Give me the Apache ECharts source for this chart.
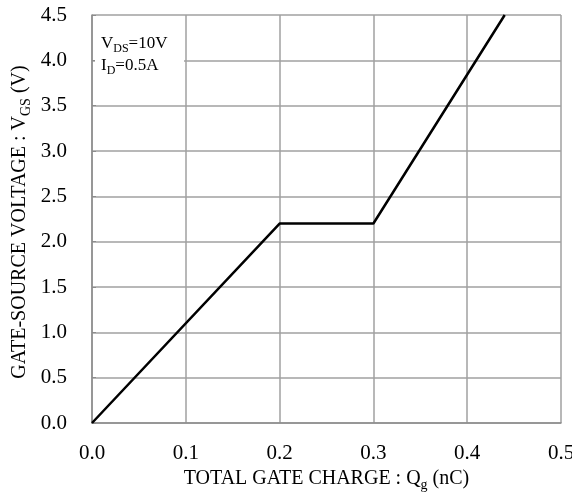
<!DOCTYPE html>
<html>
<head>
<meta charset="utf-8">
<script src="https://cdn.jsdelivr.net/npm/echarts@6/dist/echarts.min.js"></script>
<style>
  html, body { margin: 0; padding: 0; background: #fff; }
  #chart { width: 572px; height: 493px; }
</style>
</head>
<body>
<div id="chart"></div>
<script>
// gate charge curve
const qg = [0, 0.2, 0.3, 0.44]
const vgs = [0, 2.2, 2.2, 4.5]
const xTicks = [0, 0.1, 0.2, 0.3, 0.4, 0.5]
const yTicks = [0, 0.5, 1.0, 1.5, 2.0, 2.5, 3.0, 3.5, 4.0, 4.5]

const font = 'Liberation Serif, Times New Roman, serif'
const myChart = echarts.init(document.getElementById('chart'))

const sub = { fontFamily: font, fontSize: 14, color: '#000', verticalAlign: 'bottom', lineHeight: 26 }
const norm = { fontFamily: font, fontSize: 20, color: '#000', lineHeight: 26 }

let option = {
  animation: false,
  grid: { left: 92, right: 11, top: 15, bottom: 70, outerBoundsMode: 'none' },
  xAxis: {
    type: 'value',
    min: xTicks[0],
    max: xTicks[xTicks.length - 1],
    interval: 0.1,
    name: '{a|TOTAL GATE CHARGE : Q}{s|g}{a| (nC)}',
    nameLocation: 'middle',
    nameGap: 40,
    nameTextStyle: { rich: { a: norm, s: sub } },
    axisLine: { show: true, lineStyle: { color: '#8c8c8c', width: 1.5 } },
    axisTick: { show: false },
    axisLabel: {
      margin: 20,
      fontFamily: font, fontSize: 21, color: '#000',
      formatter: v => v.toFixed(1)
    },
    splitLine: { show: true, lineStyle: { color: '#a0a0a0', width: 1.5 } }
  },
  yAxis: {
    type: 'value',
    min: yTicks[0],
    max: yTicks[yTicks.length - 1],
    interval: 0.5,
    axisLine: { show: true, lineStyle: { color: '#8c8c8c', width: 1.5 } },
    axisTick: { show: true, inside: true, length: 4, lineStyle: { color: '#8c8c8c' } },
    axisLabel: {
      margin: 25,
      fontFamily: font, fontSize: 21, color: '#000',
      formatter: v => v.toFixed(1)
    },
    splitLine: { show: true, lineStyle: { color: '#a0a0a0', width: 1.5 } }
  },
  graphic: [
    // y axis title
    {
      type: 'text',
      x: 20, y: 222,
      rotation: Math.PI / 2,
      style: {
        text: '{a|GATE-SOURCE VOLTAGE : V}{s|GS}{a| (V)}',
        align: 'center',
        verticalAlign: 'middle',
        rich: { a: norm, s: sub }
      }
    },
    {
      type: 'rect',
      left: 95, top: 16,
      shape: { width: 89, height: 88 },
      style: { fill: '#fff' },
      z: 5
    },
    {
      type: 'text',
      left: 101, top: 35,
      z: 6,
      style: {
        text: '{a|V}{s|DS}{a|=10V}\n{a|I}{s|D}{a|=0.5A}',
        rich: {
          a: { fontFamily: font, fontSize: 17, color: '#000', lineHeight: 22 },
          s: { fontFamily: font, fontSize: 12, color: '#000', lineHeight: 22, verticalAlign: 'bottom' }
        }
      }
    }
  ],
  series: [
    {
      type: 'line',
      data: qg.map((q, i) => [q, vgs[i]]),
      symbol: 'none',
      z: 10,
      lineStyle: { color: '#000', width: 2.5 }
    }
  ]
}
myChart.setOption(option)
</script>
</body>
</html>
